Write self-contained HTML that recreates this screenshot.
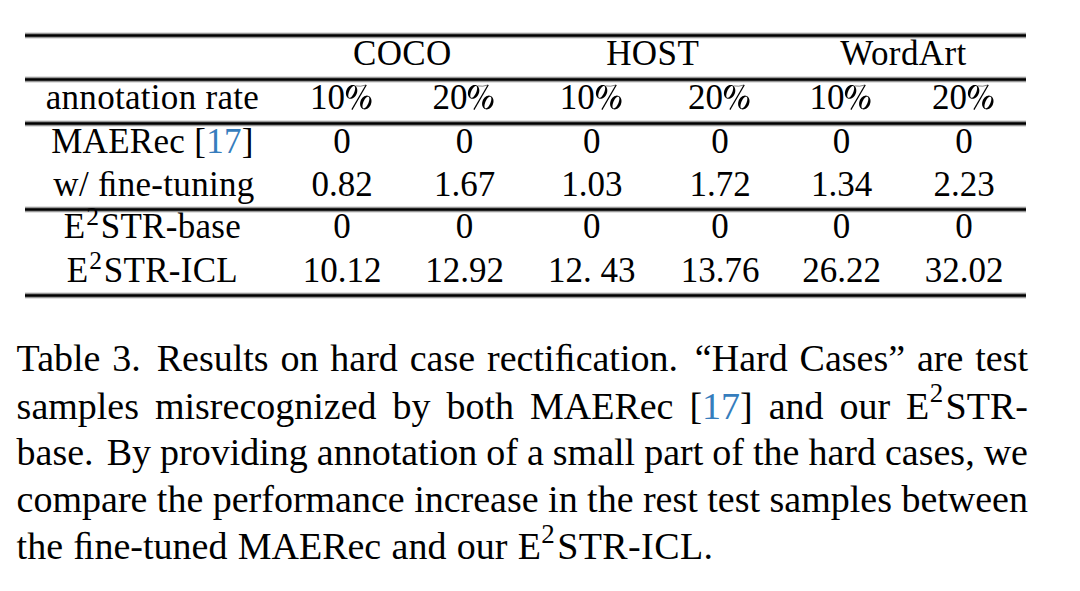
<!DOCTYPE html>
<html><head><meta charset="utf-8">
<style>
html,body{margin:0;padding:0;background:#fff;}
body{width:1080px;height:591px;position:relative;overflow:hidden;
 font-family:"Liberation Serif",serif;color:#000;}
#w{position:absolute;left:0;top:0;width:1080px;height:591px;}
.rule{position:absolute;left:25.4px;width:1000.20px;height:7px;background:linear-gradient(to bottom,rgba(0,0,0,0.12) 0px,rgba(0,0,0,0.12) 1px,rgba(0,0,0,0.4) 1px,rgba(0,0,0,0.4) 2px,rgba(0,0,0,0.85) 2px,rgba(0,0,0,0.85) 3px,rgba(0,0,0,1) 3px,rgba(0,0,0,1) 4px,rgba(0,0,0,0.85) 4px,rgba(0,0,0,0.85) 5px,rgba(0,0,0,0.4) 5px,rgba(0,0,0,0.4) 6px,rgba(0,0,0,0.12) 6px,rgba(0,0,0,0.12) 7px);}
.t{position:absolute;font-size:35px;line-height:40px;height:40px;text-align:center;white-space:nowrap;}
.sup{font-size:25.5px;position:relative;top:-13px;line-height:0;margin-left:0.7px;margin-right:1.4px;}
.cite{color:rgb(54,125,189);}
.pc{vertical-align:-2px;}
.cl{position:absolute;left:16.6px;width:1011.40px;font-size:38px;line-height:47px;height:47px;white-space:nowrap;}
.cl.j{text-align:justify;text-align-last:justify;}
.csup{font-size:27px;position:relative;top:-16.5px;line-height:0;margin-left:0.5px;margin-right:2.3px;}
.cl.last{word-spacing:0.8px;}
</style></head><body><div id="w">
<div class="rule" style="top:32px"></div>
<div class="rule" style="top:76px"></div>
<div class="rule" style="top:120px"></div>
<div class="rule" style="top:206px"></div>
<div class="rule" style="top:292px"></div>
<div class="t" style="left:252.20px;top:33.50px;width:300px;letter-spacing:0.4px;text-indent:0.4px">COCO</div>
<div class="t" style="left:502.50px;top:33.50px;width:300px;letter-spacing:0.4px;text-indent:0.4px">HOST</div>
<div class="t" style="left:753.30px;top:33.50px;width:300px;letter-spacing:0.4px;text-indent:0.4px">WordArt</div>
<div class="t" style="left:2.30px;top:78.40px;width:300px;letter-spacing:0.3px;text-indent:0.3px">annotation rate</div>
<div class="t" style="left:262.00px;top:78.40px;width:160px">10<svg class="pc" width="29.2" height="28" viewBox="0 0 29.2 28"><path fill-rule="evenodd" fill="#000" d="M12.20 8.90 L11.96 9.98 L11.58 11.03 L11.09 12.03 L10.48 12.96 L9.78 13.78 L9.00 14.48 L8.16 15.05 L7.28 15.46 L6.39 15.72 L5.50 15.80 L4.63 15.72 L3.82 15.46 L3.07 15.05 L2.42 14.48 L1.86 13.78 L1.42 12.96 L1.11 12.03 L0.93 11.03 L0.90 9.98 L1.00 8.90 L1.24 7.82 L1.62 6.77 L2.11 5.77 L2.72 4.84 L3.42 4.02 L4.20 3.32 L5.04 2.75 L5.92 2.34 L6.81 2.08 L7.70 2.00 L8.57 2.08 L9.38 2.34 L10.13 2.75 L10.78 3.32 L11.34 4.02 L11.78 4.84 L12.09 5.77 L12.27 6.77 L12.30 7.82 Z M9.40 8.90 L9.70 7.98 L9.92 7.08 L10.07 6.22 L10.13 5.43 L10.11 4.73 L10.01 4.13 L9.82 3.64 L9.55 3.29 L9.22 3.07 L8.82 3.00 L8.38 3.07 L7.89 3.29 L7.37 3.64 L6.83 4.13 L6.29 4.73 L5.76 5.43 L5.26 6.22 L4.79 7.08 L4.37 7.98 L4.00 8.90 L3.70 9.82 L3.48 10.72 L3.33 11.58 L3.27 12.37 L3.29 13.07 L3.39 13.67 L3.58 14.16 L3.85 14.51 L4.18 14.73 L4.58 14.80 L5.02 14.73 L5.51 14.51 L6.03 14.16 L6.57 13.67 L7.11 13.07 L7.64 12.37 L8.14 11.58 L8.61 10.72 L9.03 9.82 Z M26.40 19.50 L26.16 20.58 L25.78 21.63 L25.29 22.63 L24.68 23.56 L23.98 24.38 L23.20 25.08 L22.36 25.65 L21.48 26.06 L20.59 26.32 L19.70 26.40 L18.83 26.32 L18.02 26.06 L17.27 25.65 L16.62 25.08 L16.06 24.38 L15.62 23.56 L15.31 22.63 L15.13 21.63 L15.10 20.58 L15.20 19.50 L15.44 18.42 L15.82 17.37 L16.31 16.37 L16.92 15.44 L17.62 14.62 L18.40 13.92 L19.24 13.35 L20.12 12.94 L21.01 12.68 L21.90 12.60 L22.77 12.68 L23.58 12.94 L24.33 13.35 L24.98 13.92 L25.54 14.62 L25.98 15.44 L26.29 16.37 L26.47 17.37 L26.50 18.42 Z M23.60 19.50 L23.90 18.58 L24.12 17.68 L24.27 16.82 L24.33 16.03 L24.31 15.33 L24.21 14.73 L24.02 14.24 L23.75 13.89 L23.42 13.67 L23.02 13.60 L22.58 13.67 L22.09 13.89 L21.57 14.24 L21.03 14.73 L20.49 15.33 L19.96 16.03 L19.46 16.82 L18.99 17.68 L18.57 18.58 L18.20 19.50 L17.90 20.42 L17.68 21.32 L17.53 22.18 L17.47 22.97 L17.49 23.67 L17.59 24.27 L17.78 24.76 L18.05 25.11 L18.38 25.33 L18.78 25.40 L19.22 25.33 L19.71 25.11 L20.23 24.76 L20.77 24.27 L21.31 23.67 L21.84 22.97 L22.34 22.18 L22.81 21.32 L23.23 20.42 Z"/><path d="M21.2 2.0 L6.9 26.6" stroke="#000" stroke-width="1.25" fill="none"/><path d="M10.5 2.9 Q15.5 3.9 21.2 2.0" stroke="#000" stroke-width="0.7" fill="none" opacity="0.7"/></svg></div>
<div class="t" style="left:384.50px;top:78.40px;width:160px">20<svg class="pc" width="29.2" height="28" viewBox="0 0 29.2 28"><path fill-rule="evenodd" fill="#000" d="M12.20 8.90 L11.96 9.98 L11.58 11.03 L11.09 12.03 L10.48 12.96 L9.78 13.78 L9.00 14.48 L8.16 15.05 L7.28 15.46 L6.39 15.72 L5.50 15.80 L4.63 15.72 L3.82 15.46 L3.07 15.05 L2.42 14.48 L1.86 13.78 L1.42 12.96 L1.11 12.03 L0.93 11.03 L0.90 9.98 L1.00 8.90 L1.24 7.82 L1.62 6.77 L2.11 5.77 L2.72 4.84 L3.42 4.02 L4.20 3.32 L5.04 2.75 L5.92 2.34 L6.81 2.08 L7.70 2.00 L8.57 2.08 L9.38 2.34 L10.13 2.75 L10.78 3.32 L11.34 4.02 L11.78 4.84 L12.09 5.77 L12.27 6.77 L12.30 7.82 Z M9.40 8.90 L9.70 7.98 L9.92 7.08 L10.07 6.22 L10.13 5.43 L10.11 4.73 L10.01 4.13 L9.82 3.64 L9.55 3.29 L9.22 3.07 L8.82 3.00 L8.38 3.07 L7.89 3.29 L7.37 3.64 L6.83 4.13 L6.29 4.73 L5.76 5.43 L5.26 6.22 L4.79 7.08 L4.37 7.98 L4.00 8.90 L3.70 9.82 L3.48 10.72 L3.33 11.58 L3.27 12.37 L3.29 13.07 L3.39 13.67 L3.58 14.16 L3.85 14.51 L4.18 14.73 L4.58 14.80 L5.02 14.73 L5.51 14.51 L6.03 14.16 L6.57 13.67 L7.11 13.07 L7.64 12.37 L8.14 11.58 L8.61 10.72 L9.03 9.82 Z M26.40 19.50 L26.16 20.58 L25.78 21.63 L25.29 22.63 L24.68 23.56 L23.98 24.38 L23.20 25.08 L22.36 25.65 L21.48 26.06 L20.59 26.32 L19.70 26.40 L18.83 26.32 L18.02 26.06 L17.27 25.65 L16.62 25.08 L16.06 24.38 L15.62 23.56 L15.31 22.63 L15.13 21.63 L15.10 20.58 L15.20 19.50 L15.44 18.42 L15.82 17.37 L16.31 16.37 L16.92 15.44 L17.62 14.62 L18.40 13.92 L19.24 13.35 L20.12 12.94 L21.01 12.68 L21.90 12.60 L22.77 12.68 L23.58 12.94 L24.33 13.35 L24.98 13.92 L25.54 14.62 L25.98 15.44 L26.29 16.37 L26.47 17.37 L26.50 18.42 Z M23.60 19.50 L23.90 18.58 L24.12 17.68 L24.27 16.82 L24.33 16.03 L24.31 15.33 L24.21 14.73 L24.02 14.24 L23.75 13.89 L23.42 13.67 L23.02 13.60 L22.58 13.67 L22.09 13.89 L21.57 14.24 L21.03 14.73 L20.49 15.33 L19.96 16.03 L19.46 16.82 L18.99 17.68 L18.57 18.58 L18.20 19.50 L17.90 20.42 L17.68 21.32 L17.53 22.18 L17.47 22.97 L17.49 23.67 L17.59 24.27 L17.78 24.76 L18.05 25.11 L18.38 25.33 L18.78 25.40 L19.22 25.33 L19.71 25.11 L20.23 24.76 L20.77 24.27 L21.31 23.67 L21.84 22.97 L22.34 22.18 L22.81 21.32 L23.23 20.42 Z"/><path d="M21.2 2.0 L6.9 26.6" stroke="#000" stroke-width="1.25" fill="none"/><path d="M10.5 2.9 Q15.5 3.9 21.2 2.0" stroke="#000" stroke-width="0.7" fill="none" opacity="0.7"/></svg></div>
<div class="t" style="left:511.80px;top:78.40px;width:160px">10<svg class="pc" width="29.2" height="28" viewBox="0 0 29.2 28"><path fill-rule="evenodd" fill="#000" d="M12.20 8.90 L11.96 9.98 L11.58 11.03 L11.09 12.03 L10.48 12.96 L9.78 13.78 L9.00 14.48 L8.16 15.05 L7.28 15.46 L6.39 15.72 L5.50 15.80 L4.63 15.72 L3.82 15.46 L3.07 15.05 L2.42 14.48 L1.86 13.78 L1.42 12.96 L1.11 12.03 L0.93 11.03 L0.90 9.98 L1.00 8.90 L1.24 7.82 L1.62 6.77 L2.11 5.77 L2.72 4.84 L3.42 4.02 L4.20 3.32 L5.04 2.75 L5.92 2.34 L6.81 2.08 L7.70 2.00 L8.57 2.08 L9.38 2.34 L10.13 2.75 L10.78 3.32 L11.34 4.02 L11.78 4.84 L12.09 5.77 L12.27 6.77 L12.30 7.82 Z M9.40 8.90 L9.70 7.98 L9.92 7.08 L10.07 6.22 L10.13 5.43 L10.11 4.73 L10.01 4.13 L9.82 3.64 L9.55 3.29 L9.22 3.07 L8.82 3.00 L8.38 3.07 L7.89 3.29 L7.37 3.64 L6.83 4.13 L6.29 4.73 L5.76 5.43 L5.26 6.22 L4.79 7.08 L4.37 7.98 L4.00 8.90 L3.70 9.82 L3.48 10.72 L3.33 11.58 L3.27 12.37 L3.29 13.07 L3.39 13.67 L3.58 14.16 L3.85 14.51 L4.18 14.73 L4.58 14.80 L5.02 14.73 L5.51 14.51 L6.03 14.16 L6.57 13.67 L7.11 13.07 L7.64 12.37 L8.14 11.58 L8.61 10.72 L9.03 9.82 Z M26.40 19.50 L26.16 20.58 L25.78 21.63 L25.29 22.63 L24.68 23.56 L23.98 24.38 L23.20 25.08 L22.36 25.65 L21.48 26.06 L20.59 26.32 L19.70 26.40 L18.83 26.32 L18.02 26.06 L17.27 25.65 L16.62 25.08 L16.06 24.38 L15.62 23.56 L15.31 22.63 L15.13 21.63 L15.10 20.58 L15.20 19.50 L15.44 18.42 L15.82 17.37 L16.31 16.37 L16.92 15.44 L17.62 14.62 L18.40 13.92 L19.24 13.35 L20.12 12.94 L21.01 12.68 L21.90 12.60 L22.77 12.68 L23.58 12.94 L24.33 13.35 L24.98 13.92 L25.54 14.62 L25.98 15.44 L26.29 16.37 L26.47 17.37 L26.50 18.42 Z M23.60 19.50 L23.90 18.58 L24.12 17.68 L24.27 16.82 L24.33 16.03 L24.31 15.33 L24.21 14.73 L24.02 14.24 L23.75 13.89 L23.42 13.67 L23.02 13.60 L22.58 13.67 L22.09 13.89 L21.57 14.24 L21.03 14.73 L20.49 15.33 L19.96 16.03 L19.46 16.82 L18.99 17.68 L18.57 18.58 L18.20 19.50 L17.90 20.42 L17.68 21.32 L17.53 22.18 L17.47 22.97 L17.49 23.67 L17.59 24.27 L17.78 24.76 L18.05 25.11 L18.38 25.33 L18.78 25.40 L19.22 25.33 L19.71 25.11 L20.23 24.76 L20.77 24.27 L21.31 23.67 L21.84 22.97 L22.34 22.18 L22.81 21.32 L23.23 20.42 Z"/><path d="M21.2 2.0 L6.9 26.6" stroke="#000" stroke-width="1.25" fill="none"/><path d="M10.5 2.9 Q15.5 3.9 21.2 2.0" stroke="#000" stroke-width="0.7" fill="none" opacity="0.7"/></svg></div>
<div class="t" style="left:640.00px;top:78.40px;width:160px">20<svg class="pc" width="29.2" height="28" viewBox="0 0 29.2 28"><path fill-rule="evenodd" fill="#000" d="M12.20 8.90 L11.96 9.98 L11.58 11.03 L11.09 12.03 L10.48 12.96 L9.78 13.78 L9.00 14.48 L8.16 15.05 L7.28 15.46 L6.39 15.72 L5.50 15.80 L4.63 15.72 L3.82 15.46 L3.07 15.05 L2.42 14.48 L1.86 13.78 L1.42 12.96 L1.11 12.03 L0.93 11.03 L0.90 9.98 L1.00 8.90 L1.24 7.82 L1.62 6.77 L2.11 5.77 L2.72 4.84 L3.42 4.02 L4.20 3.32 L5.04 2.75 L5.92 2.34 L6.81 2.08 L7.70 2.00 L8.57 2.08 L9.38 2.34 L10.13 2.75 L10.78 3.32 L11.34 4.02 L11.78 4.84 L12.09 5.77 L12.27 6.77 L12.30 7.82 Z M9.40 8.90 L9.70 7.98 L9.92 7.08 L10.07 6.22 L10.13 5.43 L10.11 4.73 L10.01 4.13 L9.82 3.64 L9.55 3.29 L9.22 3.07 L8.82 3.00 L8.38 3.07 L7.89 3.29 L7.37 3.64 L6.83 4.13 L6.29 4.73 L5.76 5.43 L5.26 6.22 L4.79 7.08 L4.37 7.98 L4.00 8.90 L3.70 9.82 L3.48 10.72 L3.33 11.58 L3.27 12.37 L3.29 13.07 L3.39 13.67 L3.58 14.16 L3.85 14.51 L4.18 14.73 L4.58 14.80 L5.02 14.73 L5.51 14.51 L6.03 14.16 L6.57 13.67 L7.11 13.07 L7.64 12.37 L8.14 11.58 L8.61 10.72 L9.03 9.82 Z M26.40 19.50 L26.16 20.58 L25.78 21.63 L25.29 22.63 L24.68 23.56 L23.98 24.38 L23.20 25.08 L22.36 25.65 L21.48 26.06 L20.59 26.32 L19.70 26.40 L18.83 26.32 L18.02 26.06 L17.27 25.65 L16.62 25.08 L16.06 24.38 L15.62 23.56 L15.31 22.63 L15.13 21.63 L15.10 20.58 L15.20 19.50 L15.44 18.42 L15.82 17.37 L16.31 16.37 L16.92 15.44 L17.62 14.62 L18.40 13.92 L19.24 13.35 L20.12 12.94 L21.01 12.68 L21.90 12.60 L22.77 12.68 L23.58 12.94 L24.33 13.35 L24.98 13.92 L25.54 14.62 L25.98 15.44 L26.29 16.37 L26.47 17.37 L26.50 18.42 Z M23.60 19.50 L23.90 18.58 L24.12 17.68 L24.27 16.82 L24.33 16.03 L24.31 15.33 L24.21 14.73 L24.02 14.24 L23.75 13.89 L23.42 13.67 L23.02 13.60 L22.58 13.67 L22.09 13.89 L21.57 14.24 L21.03 14.73 L20.49 15.33 L19.96 16.03 L19.46 16.82 L18.99 17.68 L18.57 18.58 L18.20 19.50 L17.90 20.42 L17.68 21.32 L17.53 22.18 L17.47 22.97 L17.49 23.67 L17.59 24.27 L17.78 24.76 L18.05 25.11 L18.38 25.33 L18.78 25.40 L19.22 25.33 L19.71 25.11 L20.23 24.76 L20.77 24.27 L21.31 23.67 L21.84 22.97 L22.34 22.18 L22.81 21.32 L23.23 20.42 Z"/><path d="M21.2 2.0 L6.9 26.6" stroke="#000" stroke-width="1.25" fill="none"/><path d="M10.5 2.9 Q15.5 3.9 21.2 2.0" stroke="#000" stroke-width="0.7" fill="none" opacity="0.7"/></svg></div>
<div class="t" style="left:761.50px;top:78.40px;width:160px">10<svg class="pc" width="29.2" height="28" viewBox="0 0 29.2 28"><path fill-rule="evenodd" fill="#000" d="M12.20 8.90 L11.96 9.98 L11.58 11.03 L11.09 12.03 L10.48 12.96 L9.78 13.78 L9.00 14.48 L8.16 15.05 L7.28 15.46 L6.39 15.72 L5.50 15.80 L4.63 15.72 L3.82 15.46 L3.07 15.05 L2.42 14.48 L1.86 13.78 L1.42 12.96 L1.11 12.03 L0.93 11.03 L0.90 9.98 L1.00 8.90 L1.24 7.82 L1.62 6.77 L2.11 5.77 L2.72 4.84 L3.42 4.02 L4.20 3.32 L5.04 2.75 L5.92 2.34 L6.81 2.08 L7.70 2.00 L8.57 2.08 L9.38 2.34 L10.13 2.75 L10.78 3.32 L11.34 4.02 L11.78 4.84 L12.09 5.77 L12.27 6.77 L12.30 7.82 Z M9.40 8.90 L9.70 7.98 L9.92 7.08 L10.07 6.22 L10.13 5.43 L10.11 4.73 L10.01 4.13 L9.82 3.64 L9.55 3.29 L9.22 3.07 L8.82 3.00 L8.38 3.07 L7.89 3.29 L7.37 3.64 L6.83 4.13 L6.29 4.73 L5.76 5.43 L5.26 6.22 L4.79 7.08 L4.37 7.98 L4.00 8.90 L3.70 9.82 L3.48 10.72 L3.33 11.58 L3.27 12.37 L3.29 13.07 L3.39 13.67 L3.58 14.16 L3.85 14.51 L4.18 14.73 L4.58 14.80 L5.02 14.73 L5.51 14.51 L6.03 14.16 L6.57 13.67 L7.11 13.07 L7.64 12.37 L8.14 11.58 L8.61 10.72 L9.03 9.82 Z M26.40 19.50 L26.16 20.58 L25.78 21.63 L25.29 22.63 L24.68 23.56 L23.98 24.38 L23.20 25.08 L22.36 25.65 L21.48 26.06 L20.59 26.32 L19.70 26.40 L18.83 26.32 L18.02 26.06 L17.27 25.65 L16.62 25.08 L16.06 24.38 L15.62 23.56 L15.31 22.63 L15.13 21.63 L15.10 20.58 L15.20 19.50 L15.44 18.42 L15.82 17.37 L16.31 16.37 L16.92 15.44 L17.62 14.62 L18.40 13.92 L19.24 13.35 L20.12 12.94 L21.01 12.68 L21.90 12.60 L22.77 12.68 L23.58 12.94 L24.33 13.35 L24.98 13.92 L25.54 14.62 L25.98 15.44 L26.29 16.37 L26.47 17.37 L26.50 18.42 Z M23.60 19.50 L23.90 18.58 L24.12 17.68 L24.27 16.82 L24.33 16.03 L24.31 15.33 L24.21 14.73 L24.02 14.24 L23.75 13.89 L23.42 13.67 L23.02 13.60 L22.58 13.67 L22.09 13.89 L21.57 14.24 L21.03 14.73 L20.49 15.33 L19.96 16.03 L19.46 16.82 L18.99 17.68 L18.57 18.58 L18.20 19.50 L17.90 20.42 L17.68 21.32 L17.53 22.18 L17.47 22.97 L17.49 23.67 L17.59 24.27 L17.78 24.76 L18.05 25.11 L18.38 25.33 L18.78 25.40 L19.22 25.33 L19.71 25.11 L20.23 24.76 L20.77 24.27 L21.31 23.67 L21.84 22.97 L22.34 22.18 L22.81 21.32 L23.23 20.42 Z"/><path d="M21.2 2.0 L6.9 26.6" stroke="#000" stroke-width="1.25" fill="none"/><path d="M10.5 2.9 Q15.5 3.9 21.2 2.0" stroke="#000" stroke-width="0.7" fill="none" opacity="0.7"/></svg></div>
<div class="t" style="left:884.00px;top:78.40px;width:160px">20<svg class="pc" width="29.2" height="28" viewBox="0 0 29.2 28"><path fill-rule="evenodd" fill="#000" d="M12.20 8.90 L11.96 9.98 L11.58 11.03 L11.09 12.03 L10.48 12.96 L9.78 13.78 L9.00 14.48 L8.16 15.05 L7.28 15.46 L6.39 15.72 L5.50 15.80 L4.63 15.72 L3.82 15.46 L3.07 15.05 L2.42 14.48 L1.86 13.78 L1.42 12.96 L1.11 12.03 L0.93 11.03 L0.90 9.98 L1.00 8.90 L1.24 7.82 L1.62 6.77 L2.11 5.77 L2.72 4.84 L3.42 4.02 L4.20 3.32 L5.04 2.75 L5.92 2.34 L6.81 2.08 L7.70 2.00 L8.57 2.08 L9.38 2.34 L10.13 2.75 L10.78 3.32 L11.34 4.02 L11.78 4.84 L12.09 5.77 L12.27 6.77 L12.30 7.82 Z M9.40 8.90 L9.70 7.98 L9.92 7.08 L10.07 6.22 L10.13 5.43 L10.11 4.73 L10.01 4.13 L9.82 3.64 L9.55 3.29 L9.22 3.07 L8.82 3.00 L8.38 3.07 L7.89 3.29 L7.37 3.64 L6.83 4.13 L6.29 4.73 L5.76 5.43 L5.26 6.22 L4.79 7.08 L4.37 7.98 L4.00 8.90 L3.70 9.82 L3.48 10.72 L3.33 11.58 L3.27 12.37 L3.29 13.07 L3.39 13.67 L3.58 14.16 L3.85 14.51 L4.18 14.73 L4.58 14.80 L5.02 14.73 L5.51 14.51 L6.03 14.16 L6.57 13.67 L7.11 13.07 L7.64 12.37 L8.14 11.58 L8.61 10.72 L9.03 9.82 Z M26.40 19.50 L26.16 20.58 L25.78 21.63 L25.29 22.63 L24.68 23.56 L23.98 24.38 L23.20 25.08 L22.36 25.65 L21.48 26.06 L20.59 26.32 L19.70 26.40 L18.83 26.32 L18.02 26.06 L17.27 25.65 L16.62 25.08 L16.06 24.38 L15.62 23.56 L15.31 22.63 L15.13 21.63 L15.10 20.58 L15.20 19.50 L15.44 18.42 L15.82 17.37 L16.31 16.37 L16.92 15.44 L17.62 14.62 L18.40 13.92 L19.24 13.35 L20.12 12.94 L21.01 12.68 L21.90 12.60 L22.77 12.68 L23.58 12.94 L24.33 13.35 L24.98 13.92 L25.54 14.62 L25.98 15.44 L26.29 16.37 L26.47 17.37 L26.50 18.42 Z M23.60 19.50 L23.90 18.58 L24.12 17.68 L24.27 16.82 L24.33 16.03 L24.31 15.33 L24.21 14.73 L24.02 14.24 L23.75 13.89 L23.42 13.67 L23.02 13.60 L22.58 13.67 L22.09 13.89 L21.57 14.24 L21.03 14.73 L20.49 15.33 L19.96 16.03 L19.46 16.82 L18.99 17.68 L18.57 18.58 L18.20 19.50 L17.90 20.42 L17.68 21.32 L17.53 22.18 L17.47 22.97 L17.49 23.67 L17.59 24.27 L17.78 24.76 L18.05 25.11 L18.38 25.33 L18.78 25.40 L19.22 25.33 L19.71 25.11 L20.23 24.76 L20.77 24.27 L21.31 23.67 L21.84 22.97 L22.34 22.18 L22.81 21.32 L23.23 20.42 Z"/><path d="M21.2 2.0 L6.9 26.6" stroke="#000" stroke-width="1.25" fill="none"/><path d="M10.5 2.9 Q15.5 3.9 21.2 2.0" stroke="#000" stroke-width="0.7" fill="none" opacity="0.7"/></svg></div>
<div class="t" style="left:2.30px;top:121.80px;width:300px;letter-spacing:0.3px;text-indent:0.3px">MAERec [<span class="cite">17</span>]</div>
<div class="t" style="left:262.00px;top:121.80px;width:160px">0</div>
<div class="t" style="left:384.50px;top:121.80px;width:160px">0</div>
<div class="t" style="left:511.80px;top:121.80px;width:160px">0</div>
<div class="t" style="left:640.00px;top:121.80px;width:160px">0</div>
<div class="t" style="left:761.50px;top:121.80px;width:160px">0</div>
<div class="t" style="left:884.00px;top:121.80px;width:160px">0</div>
<div class="t" style="left:3.80px;top:164.50px;width:300px;letter-spacing:0.3px;text-indent:0.3px">w/ ﬁne-tuning</div>
<div class="t" style="left:262.00px;top:164.50px;width:160px">0.82</div>
<div class="t" style="left:384.50px;top:164.50px;width:160px">1.67</div>
<div class="t" style="left:511.80px;top:164.50px;width:160px">1.03</div>
<div class="t" style="left:640.00px;top:164.50px;width:160px">1.72</div>
<div class="t" style="left:761.50px;top:164.50px;width:160px">1.34</div>
<div class="t" style="left:884.00px;top:164.50px;width:160px">2.23</div>
<div class="t" style="left:2.30px;top:207.40px;width:300px;letter-spacing:0.3px;text-indent:0.3px">E<span class="sup">2</span>STR-base</div>
<div class="t" style="left:262.00px;top:207.40px;width:160px">0</div>
<div class="t" style="left:384.50px;top:207.40px;width:160px">0</div>
<div class="t" style="left:511.80px;top:207.40px;width:160px">0</div>
<div class="t" style="left:640.00px;top:207.40px;width:160px">0</div>
<div class="t" style="left:761.50px;top:207.40px;width:160px">0</div>
<div class="t" style="left:884.00px;top:207.40px;width:160px">0</div>
<div class="t" style="left:2.30px;top:250.50px;width:300px;letter-spacing:0.3px;text-indent:0.3px">E<span class="sup">2</span>STR-ICL</div>
<div class="t" style="left:262.00px;top:250.50px;width:160px">10.12</div>
<div class="t" style="left:384.50px;top:250.50px;width:160px">12.92</div>
<div class="t" style="left:511.80px;top:250.50px;width:160px">12. 43</div>
<div class="t" style="left:640.00px;top:250.50px;width:160px">13.76</div>
<div class="t" style="left:761.50px;top:250.50px;width:160px">26.22</div>
<div class="t" style="left:884.00px;top:250.50px;width:160px">32.02</div>
<div class="cl j" style="top:335.00px">Table <span style="margin-right:4px">3.</span> Results on hard case <span style="margin-right:5px">rectiﬁcation.</span> “Hard Cases” are test</div>
<div class="cl j" style="top:382.80px">samples misrecognized by both MAERec [<span class="cite">17</span>] and our E<span class="csup">2</span>STR-</div>
<div class="cl j" style="top:429.00px;word-spacing:-1px"><span style="margin-right:4px">base.</span> By providing annotation of a small part of the hard cases, we</div>
<div class="cl j" style="top:475.50px;word-spacing:-1px">compare the performance increase in the rest test samples between</div>
<div class="cl last" style="top:523.00px">the ﬁne-tuned MAERec and our E<span class="csup">2</span><span style="letter-spacing:0.4px">STR-ICL.</span></div>
</div></body></html>
